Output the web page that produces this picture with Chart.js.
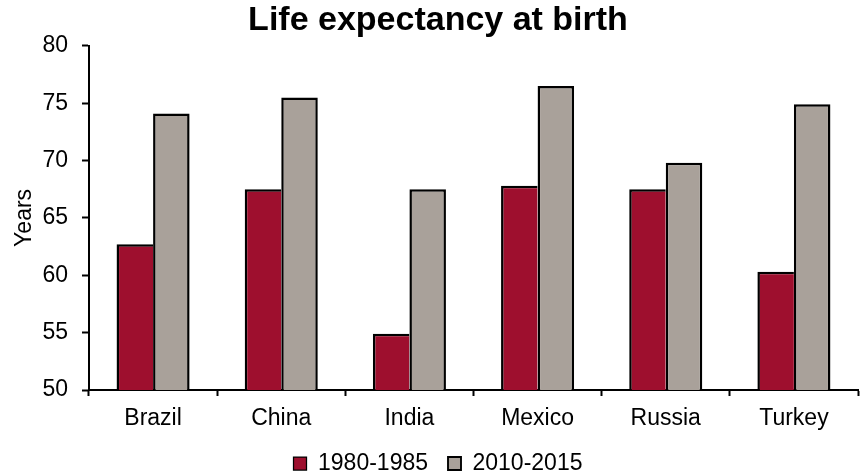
<!DOCTYPE html>
<html>
<head>
<meta charset="utf-8">
<script src="https://cdn.jsdelivr.net/npm/chart.js@4/dist/chart.umd.min.js"></script>
<style>
  body { margin: 0; background: #fff; }
  #wrap { width: 867px; height: 475px; position: relative; }
</style>
</head>
<body>
<div id="wrap"><canvas id="chart1"></canvas></div>
<script>
// datos
const countries = ['Brazil', 'China', 'India', 'Mexico', 'Russia', 'Turkey'];
const years1980 = [62.7, 67.5, 54.9, 67.8, 67.5, 60.3];
const years2010 = [74.1, 75.5, 67.5, 76.5, 69.8, 74.9];
const seriesLabels = ['1980-1985', '2010-2015'];
const yTicks = [50, 55, 60, 65, 70, 75, 80];

const fontFamily = '"Liberation Sans", Arial, sans-serif';

const ctx = document.getElementById('chart1').getContext('2d');
const chart = new Chart(ctx, {
  type: 'bar',
  data: {
    labels: countries,
    datasets: [
      {
        label: seriesLabels[0],
        data: years1980,
        backgroundColor: '#9E0F2E',
        borderColor: '#000',
        borderWidth: { top: 2.5, left: 2.5, right: 0, bottom: 0 },
        borderSkipped: false
      },
      {
        label: seriesLabels[1],
        data: years2010,
        backgroundColor: '#A9A19A',
        borderColor: '#000',
        borderWidth: { top: 2.5, left: 2.5, right: 2.5, bottom: 0 },
        borderSkipped: false
      }
    ]
  },
  options: {
    animation: false,
    responsive: true,
    maintainAspectRatio: false,
    layout: { padding: { left: 18, right: 9, top: 0, bottom: -10 } },
    datasets: { bar: { categoryPercentage: 0.57, barPercentage: 1.0 } },
    scales: {
      x: {
        offset: true,
        afterFit: (scale) => { scale.height = 42; },
        grid: {
          offset: true,
          drawOnChartArea: false,
          drawTicks: true,
          tickLength: 6,
          tickWidth: 2,
          tickColor: '#000'
        },
        border: { color: '#000', width: 2 },
        ticks: {
          color: '#000',
          padding: 9,
          font: { family: fontFamily, size: 23 }
        }
      },
      y: {
        min: 50,
        max: 80,
        afterBuildTicks: (scale) => {
          scale.ticks = yTicks.map(v => ({ value: v }));
        },
        afterFit: (scale) => { scale.width = 71; },
        grid: {
          drawOnChartArea: false,
          drawTicks: true,
          tickLength: 7,
          tickWidth: 2,
          tickColor: '#000'
        },
        border: { color: '#000', width: 2 },
        ticks: {
          color: '#000',
          padding: 14,
          font: { family: fontFamily, size: 23 }
        },
        title: {
          display: true,
          text: 'Years',
          color: '#000',
          padding: { top: -7, bottom: 0 },
          font: { family: fontFamily, size: 23 }
        }
      }
    },
    plugins: {
      title: {
        display: true,
        text: 'Life expectancy at birth',
        color: '#000',
        padding: { top: 0, bottom: 5 },
        font: { family: fontFamily, size: 34, weight: 'bold' }
      },
      legend: {
        position: 'bottom',
        labels: {
          color: '#000',
          boxWidth: 13,
          boxHeight: 13,
          padding: 20,
          font: { family: fontFamily, size: 23 }
        }
      },
      tooltip: { enabled: false }
    }
  }
});
</script>
</body>
</html>
